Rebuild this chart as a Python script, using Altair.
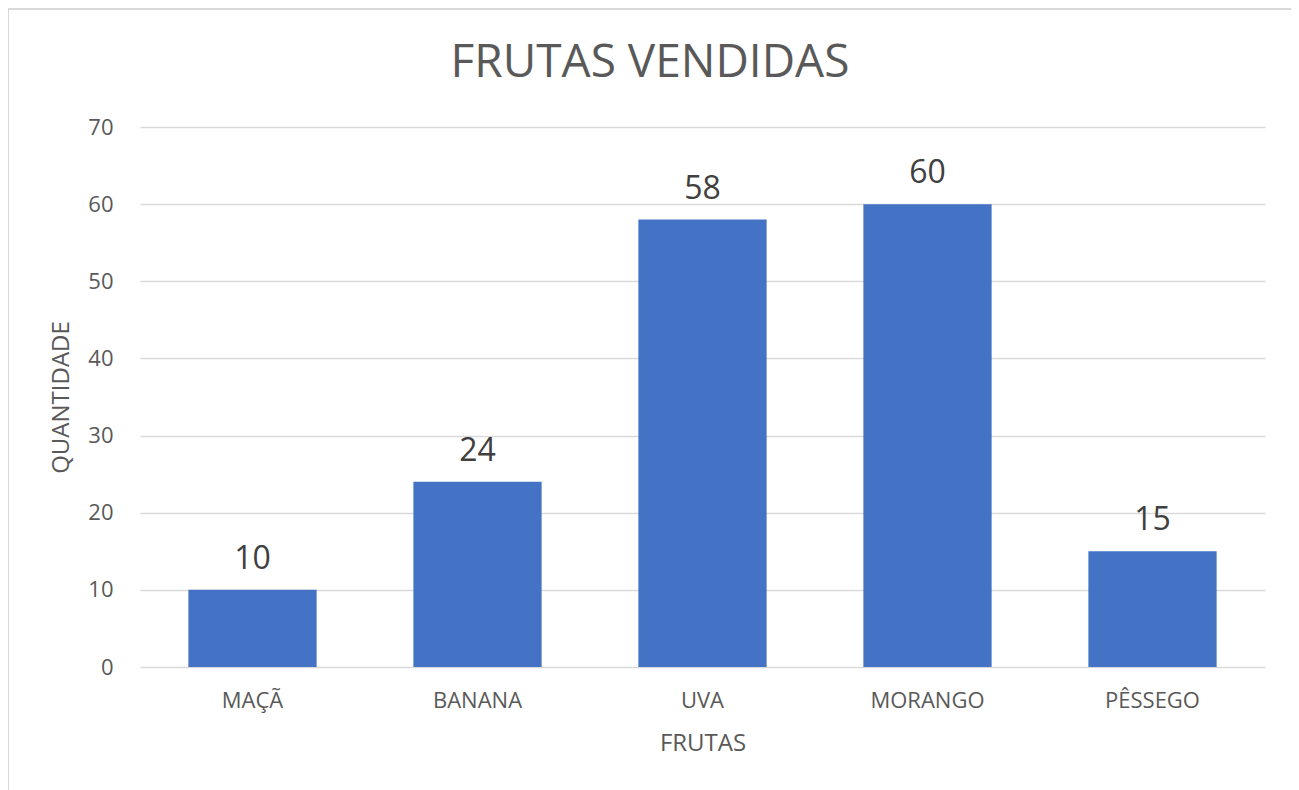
import altair as alt
import pandas as pd

frutas = ["MAÇÃ", "BANANA", "UVA", "MORANGO", "PÊSSEGO"]
quantidades = [10, 24, 58, 60, 15]
titulo = "FRUTAS VENDIDAS"

df = pd.DataFrame({"fruta": frutas, "qtd": quantidades})

FONT = "Open Sans"
GRAY = "#595959"

base = alt.Chart(df)

bars = base.mark_bar(color="#4472C4").encode(
    x=alt.X("fruta:N", sort=frutas, title="FRUTAS",
            scale=alt.Scale(paddingInner=0.43, paddingOuter=0.215),
            axis=alt.Axis(labelAngle=0, labelFontSize=22, labelColor=GRAY, labelFont=FONT,
                          labelPadding=23, titleFontSize=24, titleColor=GRAY, titleFont=FONT,
                          titleFontWeight="normal", titlePadding=20, domain=False, ticks=False)),
    y=alt.Y("qtd:Q", title="QUANTIDADE",
            scale=alt.Scale(domain=[0, 70]),
            axis=alt.Axis(values=[0, 10, 20, 30, 40, 50, 60, 70], labelFontSize=22, labelColor=GRAY,
                          labelFont=FONT, labelPadding=27, titleFontSize=24, titleColor=GRAY,
                          titleFont=FONT, titleFontWeight="normal", titlePadding=14,
                          domain=False, ticks=False, grid=True, gridColor="#D9D9D9", gridWidth=1.5)),
)

labels = base.mark_text(fontSize=32, font=FONT, color="#404040", baseline="alphabetic", dy=-21).encode(
    x=alt.X("fruta:N", sort=frutas),
    y=alt.Y("qtd:Q"),
    text=alt.Text("qtd:Q"),
)

border = alt.Chart(pd.DataFrame({"a": [0]})).mark_rect(
    fill=None, stroke="#D9D9D9", strokeWidth=2, clip=False
).encode(
    x=alt.value(-132), x2=alt.value(1152), y=alt.value(-118), y2=alt.value(720)
)

title = alt.Chart(pd.DataFrame({"t": [titulo]})).mark_text(
    fontSize=46, font=FONT, color=GRAY, baseline="alphabetic", align="center", clip=False
).encode(
    x=alt.value(510), y=alt.value(-50), text="t:N"
)

chart = alt.layer(border, bars, labels, title).properties(
    width=1125, height=540,
    padding={"left": 132, "top": 119, "right": 26, "bottom": 140},
    autosize=alt.AutoSizeParams(type="none"),
).configure_view(stroke=None)

chart.save("out.html", embed_options={"renderer": "svg", "actions": False})
